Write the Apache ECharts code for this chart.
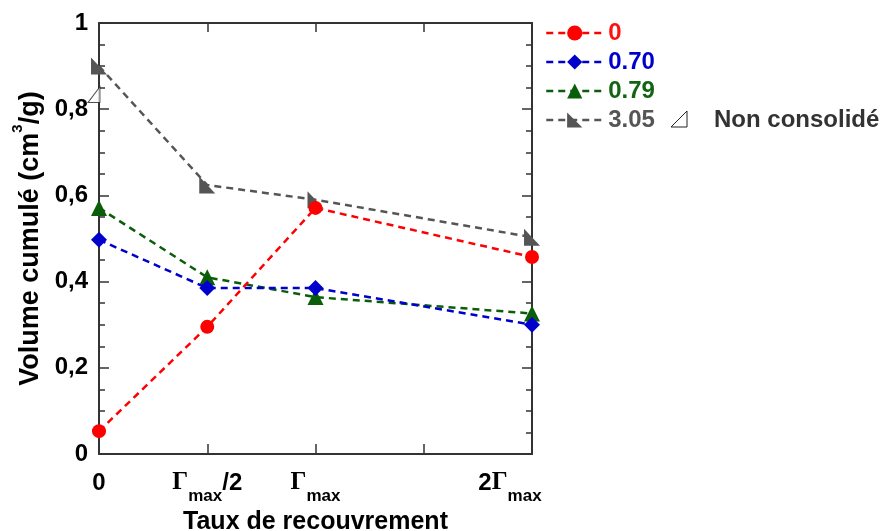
<!DOCTYPE html>
<html>
<head>
<meta charset="utf-8">
<script src="https://cdn.jsdelivr.net/npm/echarts@6/dist/echarts.min.js"></script>
<style>html,body{margin:0;padding:0;background:#fff}#c{width:888px;height:531px}</style>
</head>
<body>
<div id="c"></div>
<script>
// x positions: 0, Γmax/2, Γmax, 2Γmax  (in units of Γmax)
var xValues = [0, 0.5, 1, 2];
var seriesNames = ['0', '0.70', '0.79', '3.05'];
var s0 = [0.053, 0.295, 0.571, 0.457];
var s070 = [0.497, 0.385, 0.385, 0.300];
var s079 = [0.571, 0.410, 0.364, 0.326];
var s305 = [0.900, 0.624, 0.590, 0.503];
var nonConsolide = [[0, 0.834]];
var yTicks = [0, 0.2, 0.4, 0.6, 0.8, 1];

var colors = ['#ff0000', '#0000cc', '#0a5e0a', '#555555'];
var textColors = ['#ff1111', '#0000cc', '#126312', '#555555'];
var symbols = ['circle', 'diamond', 'triangle', 'path://M0,0 L0,10 L10,10 Z'];
var symbolSizes = [14, 16, 16, [16, 17]];
var allData = [s0, s070, s079, s305];

function pairs(arr) { return xValues.map(function (x, i) { return [x, arr[i]]; }); }

var FONT = 'Liberation Sans';
var series = allData.map(function (d, i) {
  return {
    name: seriesNames[i], type: 'line', data: pairs(d),
    symbol: symbols[i], symbolSize: symbolSizes[i],
    itemStyle: { color: colors[i] },
    lineStyle: { color: colors[i], width: 2.5, type: [7, 5] },
    z: 10 - i
  };
});
series.push({
  name: 'nc', type: 'scatter', data: nonConsolide, clip: false,
  symbol: 'path://M10,0 L10,10 L0,10 Z', symbolSize: [12, 16], symbolOffset: [-5, 0],
  itemStyle: { color: '#fff', borderColor: '#222', borderWidth: 1 }, z: 20
});

var xLab = {0: '{b|0}', 0.5: '{g|Γ}{s|max}{b|/2}', 1: '{g|Γ}{s|max}', 2: '{b|2}{g|Γ}{s|max}{p| }'};
var axisCol = '#333';
var tickStyle = { color: axisCol, width: 1.5 };
var chart = echarts.init(document.getElementById('c'), null, { renderer: 'canvas' });
chart.setOption({
  animation: false,
  backgroundColor: '#fff',
  grid: { left: 99, right: 356, top: 23, bottom: 77, containLabel: false, outerBoundsMode: 'none' },
  legend: {
    orient: 'vertical', left: 545, top: 21, padding: 0, itemWidth: 57, itemHeight: 19, itemGap: 5,
    lineStyle: { width: 2.5, type: [7, 5] },
    data: seriesNames.map(function (n, i) {
      return { name: n, textStyle: { color: textColors[i] } };
    }),
    textStyle: { fontFamily: FONT, fontWeight: 'bold', fontSize: 24 }
  },
  graphic: [
    { type: 'polygon', shape: { points: [[687, 111], [687, 127], [671, 127]] },
      style: { fill: '#fff', stroke: '#222', lineWidth: 1 } },
    { type: 'text', left: 714, top: 108,
      style: { text: 'Non consolidé', fill: '#333', font: 'bold 24px "Liberation Sans"' } }
  ],
  xAxis: [{
    type: 'value', min: 0, max: 2, interval: 0.5,
    axisLine: { onZero: false, lineStyle: { color: axisCol, width: 2 } },
    axisTick: { inside: true, length: 10, lineStyle: tickStyle },
    splitLine: { show: false },
    axisLabel: {
      margin: 7,
      formatter: function (v) { return xLab[v] || ''; },
      rich: {
        b: { fontFamily: FONT, fontWeight: 'bold', fontSize: 24, color: '#000', lineHeight: 44 },
        g: { fontFamily: 'Liberation Serif', fontWeight: 'bold', fontSize: 25, color: '#000', lineHeight: 44 },
        s: { fontFamily: FONT, fontWeight: 'bold', fontSize: 17, color: '#000', lineHeight: 9, verticalAlign: 'bottom' },
        p: { width: 44, lineHeight: 44 }
      }
    },
    name: 'Taux de recouvrement', nameLocation: 'middle', nameGap: 54,
    nameTextStyle: { fontFamily: FONT, fontWeight: 'bold', fontSize: 25, color: '#000' }
  }, {
    type: 'value', min: 0, max: 2, interval: 0.5, position: 'top',
    axisLine: { onZero: false, lineStyle: { color: axisCol, width: 2 } },
    axisTick: { inside: true, length: 9, lineStyle: tickStyle },
    axisLabel: { show: false }, splitLine: { show: false }
  }],
  yAxis: [{
    type: 'value', min: 0, max: 1, interval: 0.2,
    axisLine: { show: true, onZero: false, lineStyle: { color: axisCol, width: 2 } },
    axisTick: { show: true, inside: true, length: 10, lineStyle: tickStyle },
    minorTick: { show: true, splitNumber: 4, length: 6, lineStyle: tickStyle },
    splitLine: { show: false },
    axisLabel: {
      margin: 11, fontFamily: FONT, fontWeight: 'bold', fontSize: 24, color: '#000',
      formatter: function (v) {
        var i = yTicks.findIndex(function (t) { return Math.abs(t - v) < 1e-9; });
        if (i < 0) return '';
        var t = yTicks[i];
        return (t === 0 || t === 1) ? String(t) : t.toFixed(1).replace('.', ',');
      }
    },
    name: 'Volume cumulé (cm{sup|3}/g)', nameLocation: 'middle', nameGap: 44,
    nameTextStyle: {
      fontFamily: FONT, fontWeight: 'bold', fontSize: 27, color: '#000', lineHeight: 40,
      rich: { sup: { fontFamily: FONT, fontWeight: 'bold', fontSize: 15, color: '#000', lineHeight: 12, verticalAlign: 'top' } }
    }
  }, {
    type: 'value', min: 0, max: 1, interval: 0.2, position: 'right',
    axisLine: { show: true, onZero: false, lineStyle: { color: axisCol, width: 2 } },
    axisTick: { show: true, inside: true, length: 10, lineStyle: tickStyle },
    minorTick: { show: true, splitNumber: 4, length: 6, lineStyle: tickStyle },
    splitLine: { show: false }, axisLabel: { show: false }
  }],
  series: series
});
</script>
</body>
</html>
